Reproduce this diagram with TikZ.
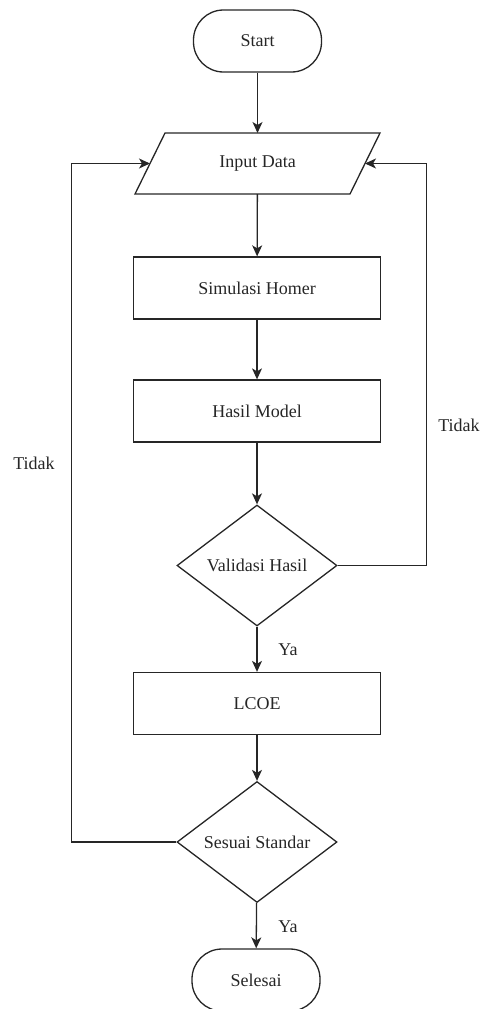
\documentclass[tikz,border=0pt]{standalone}
\usepackage{fontspec}
\setmainfont{Liberation Serif}
\usetikzlibrary{shapes.geometric,arrows.meta}
\begin{document}
\begin{tikzpicture}[x=1pt,y=-1pt,
  every node/.style={font=\fontsize{18}{22}\selectfont, text=black!85},
  line/.style={draw=black!85, line width=1.3pt},
  arr/.style={line, -{Stealth[length=11pt,width=10pt,inset=3pt]}},
  term/.style={line, rectangle, rounded corners=30pt, minimum width=128pt, minimum height=62pt, inner sep=0pt},
  procbox/.style={line, rectangle, minimum width=247pt, minimum height=62pt, inner sep=0pt},
  decide/.style={line, diamond, minimum width=160pt, minimum height=121pt, inner sep=0pt, aspect=1.32},
  iobox/.style={rectangle, minimum width=215pt, minimum height=61pt, inner sep=0pt, outer sep=0pt},
  lbl/.style={inner sep=0pt}]
\useasboundingbox (0,0) rectangle (481,1009);
\node[term] (st) at (257.5,41) {Start};
\node[iobox] (in) at (257.5,163.5) {Input Data};
\draw[line] ([xshift=15pt]in.north west) -- ([xshift=15pt]in.north east)
  -- ([xshift=-15pt]in.south east) -- ([xshift=-15pt]in.south west) -- cycle;
\node[procbox] (sh) at (257,288) {Simulasi Homer};
\node[procbox] (hm) at (257,411) {Hasil Model};
\node[decide] (vh) at (257,565.5) {Validasi Hasil};
\node[procbox] (lc) at (257,703.5) {LCOE};
\node[decide] (ss) at (257,842) {Sesuai Standar};
\node[term] (se) at (256,980) {Selesai};
\draw[arr] (st) -- (in);
\draw[arr] (in) -- (sh);
\draw[arr] (sh) -- (hm);
\draw[arr] (hm) -- (vh);
\draw[arr] (vh) -- (lc);
\draw[arr] (lc) -- (ss);
\draw[arr] (ss) -- (se);
\draw[arr] (ss.west) -- ++(-105,0) |- (in.west);
\draw[arr] (vh.east) -- ++(89,0) |- (in.east);
\node[lbl] (ya1) at (288,650) {Ya};
\node[lbl] (ya2) at (288,927) {Ya};
\node[lbl] (td1) at (34,463) {Tidak};
\node[lbl] (td2) at (459,425) {Tidak};
\end{tikzpicture}
\end{document}
